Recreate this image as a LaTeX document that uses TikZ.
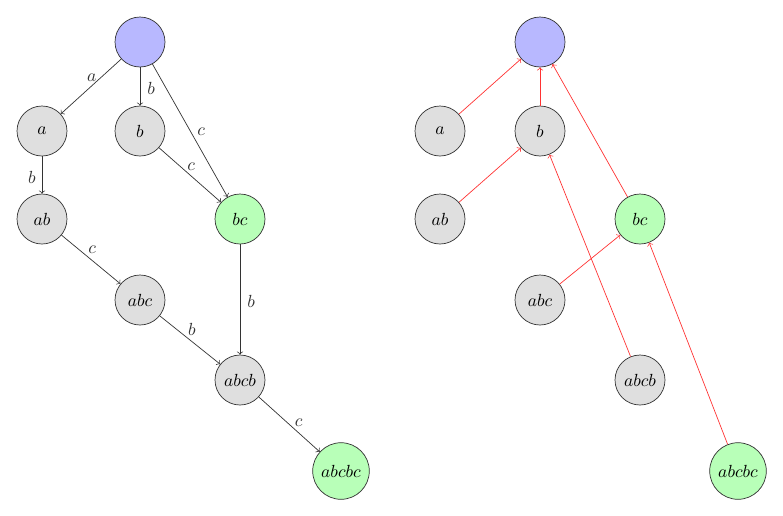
\documentclass[tikz,border=0pt]{standalone}
\begin{document}
\begin{tikzpicture}[x=0.02cm,y=-0.02cm,
  st/.style={circle,draw=black!80,minimum size=1cm,font=\normalsize},
  rootst/.style={st,fill=blue!28},
  midst/.style={st,fill=gray!25},
  endst/.style={st,fill=green!28},
  tr/.style={->,black!80},
  lk/.style={->,red!80},
  lb/.style={font=\normalsize,inner sep=0pt,midway,anchor=center}]
\useasboundingbox (0,0) rectangle (783,515);
% left automaton
\node[rootst] (r) at (140,42) {};
\node[midst] (a) at (42,131) {$a$};
\node[midst] (b) at (140,131) {$b$};
\node[midst] (ab) at (42,219) {$ab$};
\node[endst] (bc) at (240,219) {$bc$};
\node[midst] (abc) at (140,300) {$abc$};
\node[midst] (abcb) at (240,380) {$abcb$};
\node[endst] (abcbc) at (341,471) {$abcbc$};
\draw[tr] (r) -- node[lb,xshift=0.5pt,yshift=4.8pt] {$a$} (a);
\draw[tr] (r) -- node[lb,xshift=6.3pt,yshift=-0.9pt] {$b$} (b);
\draw[tr] (r) -- node[lb,xshift=6.3pt,yshift=-0.9pt] {$c$} (bc);
\draw[tr] (a) -- node[lb,xshift=-5.7pt,yshift=-1.1pt] {$b$} (ab);
\draw[tr] (b) -- node[lb,xshift=0.6pt,yshift=4.6pt] {$c$} (bc);
\draw[tr] (ab) -- node[lb,xshift=0.6pt,yshift=5.4pt] {$c$} (abc);
\draw[tr] (bc) -- node[lb,xshift=6.3pt,yshift=-0.9pt] {$b$} (abcb);
\draw[tr] (abc) -- node[lb,xshift=1.1pt,yshift=6.3pt] {$b$} (abcb);
\draw[tr] (abcb) -- node[lb,xshift=5.4pt,yshift=0.8pt] {$c$} (abcbc);
% right suffix links
\node[rootst] (r2) at (540,42) {};
\node[midst] (a2) at (440,131) {$a$};
\node[midst] (b2) at (540,131) {$b$};
\node[midst] (ab2) at (440,219) {$ab$};
\node[endst] (bc2) at (640,219) {$bc$};
\node[midst] (abc2) at (540,300) {$abc$};
\node[midst] (abcb2) at (640,380) {$abcb$};
\node[endst] (abcbc2) at (738,471) {$abcbc$};
\draw[lk] (a2) -- (r2);
\draw[lk] (b2) -- (r2);
\draw[lk] (bc2) -- (r2);
\draw[lk] (ab2) -- (b2);
\draw[lk] (abc2) -- (bc2);
\draw[lk] (abcb2) -- (b2);
\draw[lk] (abcbc2) -- (bc2);
\end{tikzpicture}
\end{document}
